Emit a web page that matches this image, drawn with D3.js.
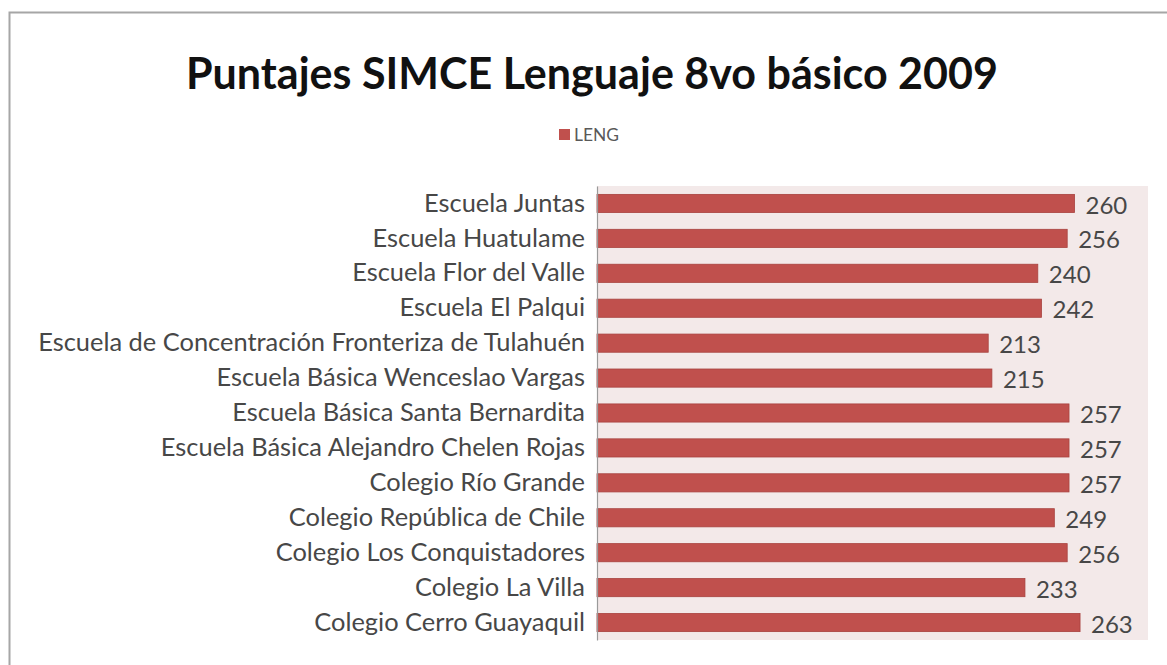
<!DOCTYPE html>
<html>
<head>
<meta charset="utf-8">
<script src="https://cdn.jsdelivr.net/npm/d3@7"></script>
<style>
  body { margin: 0; background: #fff; }
  svg { display: block; }
  text { font-family: Lato, "Open Sans", sans-serif; }
</style>
</head>
<body>
<div id="chart"></div>
<script>
// data, top to bottom as drawn
const schools = [
  'Escuela Juntas',
  'Escuela Huatulame',
  'Escuela Flor del Valle',
  'Escuela El Palqui',
  'Escuela de Concentración Fronteriza de Tulahuén',
  'Escuela Básica Wenceslao Vargas',
  'Escuela Básica Santa Bernardita',
  'Escuela Básica Alejandro Chelen Rojas',
  'Colegio Río Grande',
  'Colegio República de Chile',
  'Colegio Los Conquistadores',
  'Colegio La Villa',
  'Colegio Cerro Guayaquil'
];
const leng = [260, 256, 240, 242, 213, 215, 257, 257, 257, 249, 256, 233, 263];
const xDomain = [0, 300];
const seriesName = 'LENG';
const title = 'Puntajes SIMCE Lenguaje 8vo básico 2009';

const W = 1167, H = 665;
const plot = {left: 597, right: 1148, top: 186, bottom: 640};

const svg = d3.select('#chart').append('svg')
  .attr('width', W)
  .attr('height', H);

// outer chart frame (runs off the right and bottom edges)
svg.append('rect')
  .attr('x', 9.5).attr('y', 12.5)
  .attr('width', W).attr('height', H)
  .attr('fill', 'none')
  .attr('stroke', '#a6a6a6')
  .attr('stroke-width', 2);

// helper: fit a text element to a target width by changing its font size
function fitWidth(sel, target) {
  const node = sel.node();
  const fs = parseFloat(sel.attr('font-size'));
  const w = node.getComputedTextLength();
  sel.attr('font-size', (fs * target / w).toFixed(2));
}

// title
const t = svg.append('text')
  .attr('x', 592).attr('y', 89)
  .attr('text-anchor', 'middle')
  .attr('font-size', 40)
  .attr('font-weight', 'bold')
  .attr('fill', '#111')
  .text(title);
fitWidth(t, 812);

// legend
svg.append('rect')
  .attr('x', 559).attr('y', 129)
  .attr('width', 11).attr('height', 11)
  .attr('fill', '#c0504d');
const lg = svg.append('text')
  .attr('x', 574).attr('y', 141)
  .attr('font-size', 16)
  .attr('fill', '#595959')
  .text(seriesName);
fitWidth(lg, 45);

// scales
const x = d3.scaleLinear()
  .domain(xDomain)
  .range([plot.left, plot.right]);

const y = d3.scaleBand()
  .domain(schools)
  .range([plot.top, plot.bottom])
  .paddingInner(0.48)
  .paddingOuter(0.24);

// plot area background
svg.append('rect')
  .attr('x', plot.left).attr('y', plot.top)
  .attr('width', plot.right - plot.left)
  .attr('height', plot.bottom - plot.top)
  .attr('fill', '#f3e9e9');

// bars
svg.append('g')
  .selectAll('rect')
  .data(leng)
  .enter()
  .append('rect')
  .attr('x', x(0))
  .attr('y', (d, i) => y(schools[i]))
  .attr('width', d => x(d) - x(0))
  .attr('height', y.bandwidth())
  .attr('fill', '#c0504d')
  .attr('stroke', '#a8423f')
  .attr('stroke-width', 0.8);

// category axis
const yAxis = svg.append('g')
  .attr('transform', 'translate(' + plot.left + ',0)')
  .call(d3.axisLeft(y).tickSize(0).tickPadding(12));
yAxis.select('.domain').attr('stroke', '#9a9a9a').attr('stroke-width', 1.2);
yAxis.selectAll('text')
  .attr('font-size', 18)
  .attr('fill', '#474747')
  .style('font-family', 'Lato, "Open Sans", sans-serif');

// fit category labels so the longest one spans like the reference
let lw = 0;
yAxis.selectAll('text').each(function() {
  lw = Math.max(lw, this.getComputedTextLength());
});
yAxis.selectAll('text').attr('font-size', (18 * 547 / lw).toFixed(2));

// value labels
svg.append('g')
  .selectAll('text')
  .data(leng)
  .enter()
  .append('text')
  .attr('x', d => x(d) + 11)
  .attr('y', (d, i) => y(schools[i]) + y.bandwidth() / 2)
  .attr('dy', '0.42em')
  .attr('font-size', 24)
  .attr('fill', '#474747')
  .text(d => d);
</script>
</body>
</html>
